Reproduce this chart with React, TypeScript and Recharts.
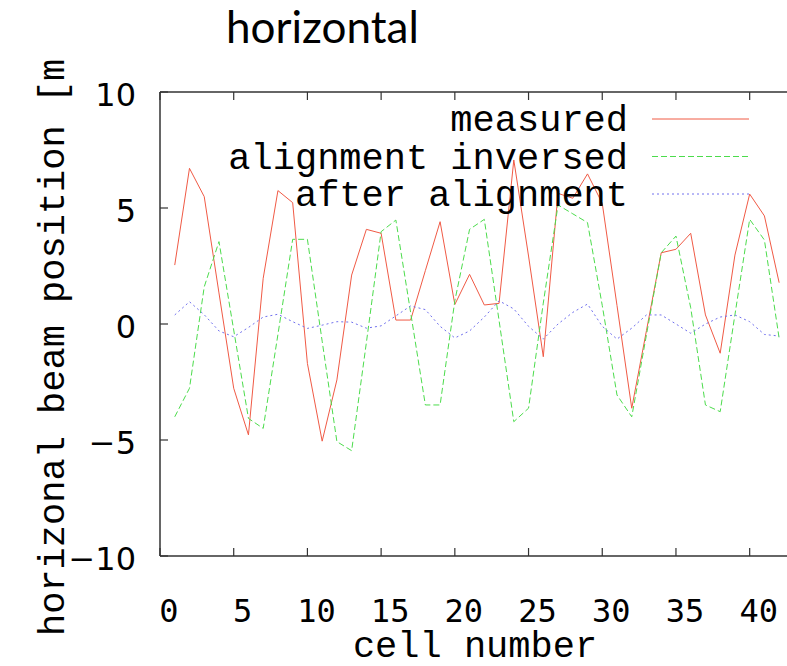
import { LineChart, Line, XAxis, YAxis } from 'recharts';

const cells = [
  1, 2, 3, 4, 5, 6, 7, 8, 9, 10, 11, 12, 13, 14, 15, 16, 17, 18, 19, 20, 21,
  22, 23, 24, 25, 26, 27, 28, 29, 30, 31, 32, 33, 34, 35, 36, 37, 38, 39, 40, 41, 42,
];

const measured = [
  2.54, 6.71, 5.49, 1.34, -2.77, -4.78, 1.97, 5.75, 5.23, -1.7, -5.05, -2.41, 2.11, 4.08,
  3.91, 0.17, 0.17, 2.3, 4.41, 0.84, 2.14, 0.82, 0.89, 7.07, 2.93, -1.41, 5.63, 5.42,
  6.47, 5.2, 0.8, -3.63, -0.28, 3.07, 3.22, 3.91, 0.39, -1.26, 2.97, 5.6, 4.66, 1.78,
];

const alignmentInversed = [
  -4.0, -2.77, 1.6, 3.55, -0.26, -4.07, -4.5, -0.45, 3.65, 3.65, -0.74, -5.07, -5.46, -0.8,
  3.98, 4.48, 0.5, -3.49, -3.49, 1.0, 4.08, 4.51, 0.15, -4.21, -3.63, 0.9, 5.13, 4.75,
  4.37, 0.8, -3.06, -4.0, -0.46, 3.07, 3.79, 0.7, -3.49, -3.78, 0.4, 4.51, 3.62, -0.62,
];

const afterAlignment = [
  0.39, 0.96, 0.4, -0.3, -0.55, -0.15, 0.3, 0.42, 0.1, -0.19, -0.05, 0.1, 0.08, -0.18,
  -0.08, 0.35, 0.78, 0.62, -0.1, -0.6, -0.3, 0.3, 1.0, 0.65, -0.1, -0.65, 0.0, 0.5,
  0.86, -0.1, -0.65, -0.18, 0.39, 0.39, 0.0, -0.4, 0.0, 0.3, 0.39, 0.1, -0.45, -0.52,
];

const xTicks = [0, 5, 10, 15, 20, 25, 30, 35, 40];
const yTicks = [-10, -5, 0, 5, 10];

const series = [
  { key: 'measured', name: 'measured', color: '#f05a45', dash: undefined },
  { key: 'inversed', name: 'alignment inversed', color: '#4cdc4c', dash: '6 3' },
  { key: 'after', name: 'after alignment', color: '#7070ee', dash: '2 3' },
];

const data = cells.map((c, i) => ({
  cell: c,
  measured: measured[i],
  inversed: alignmentInversed[i],
  after: afterAlignment[i],
}));

const AXIS = '#333';
const MONO = '"Liberation Mono", "DejaVu Sans Mono", monospace';

// gnuplot style: ticks point into the plot box
const BottomTick = ({ x, y, payload }: any) => (
  <g>
    <line x1={x} x2={x} y1={y} y2={y - 8} stroke={AXIS} strokeWidth={1.2} />
    <text x={x + 9} y={y + 66} textAnchor="middle" fontSize={32} fontFamily='"DejaVu Sans Mono", monospace' fill="#000">
      {payload.value}
    </text>
  </g>
);

const TopTick = ({ x, y }: any) => (
  <line x1={x} x2={x} y1={y} y2={y + 8} stroke={AXIS} strokeWidth={1.2} />
);

const LeftTick = ({ x, y, payload }: any) => (
  <g>
    <line x1={x} x2={x + 8} y1={y} y2={y} stroke={AXIS} strokeWidth={1.2} />
    <text x={x - 24} y={y + 14} textAnchor="end" fontSize={32} fontFamily='"DejaVu Sans", sans-serif' fill="#000">
      {payload.value >= 0 ? payload.value : '\u2212' + Math.abs(payload.value)}
    </text>
  </g>
);

const RightTick = ({ x, y }: any) => (
  <line x1={x} x2={x - 8} y1={y} y2={y} stroke={AXIS} strokeWidth={1.2} />
);

const YLabel = () => (
  <g>
    <defs>
      <clipPath id="ylabClip">
        <rect x={0} y={60} width={150} height={606} />
      </clipPath>
    </defs>
    <g clipPath="url(#ylabClip)">
      <text x={64} y={636} transform="rotate(-90 64 636)" fontSize={37} fontFamily={MONO} fill="#000">
        horizonal beam position [mm]
      </text>
    </g>
  </g>
);

export default function App() {
  return (
    <div style={{ position: 'relative', width: 787, height: 666, overflow: 'hidden', background: '#fff' }}>
      <style>{'body{margin:0}'}</style>
      <LineChart width={800} height={666} data={data} margin={{ top: 91, right: 11, bottom: 109, left: 159 }}>
        <XAxis
          dataKey="cell"
          type="number"
          domain={[0, 42.6]}
          ticks={xTicks}
          height={1}
          tickSize={0}
          tickMargin={0}
          tickLine={false}
          tick={<BottomTick />}
          axisLine={{ stroke: AXIS, strokeWidth: 1.5 }}
          allowDataOverflow
        />
        <XAxis
          xAxisId="top"
          orientation="top"
          dataKey="cell"
          type="number"
          domain={[0, 42.6]}
          ticks={xTicks}
          height={1}
          tickSize={0}
          tickMargin={0}
          tickLine={false}
          tick={<TopTick />}
          axisLine={{ stroke: AXIS, strokeWidth: 1.5 }}
          allowDataOverflow
        />
        <YAxis
          type="number"
          domain={[-10, 10]}
          ticks={yTicks}
          width={1}
          tickSize={0}
          tickMargin={0}
          tickLine={false}
          tick={<LeftTick />}
          axisLine={{ stroke: AXIS, strokeWidth: 1.5 }}
          label={{ content: <YLabel /> }}
        />
        <YAxis
          yAxisId="right"
          orientation="right"
          type="number"
          domain={[-10, 10]}
          ticks={yTicks}
          width={1}
          tickSize={0}
          tickMargin={0}
          tickLine={false}
          tick={<RightTick />}
          axisLine={{ stroke: AXIS, strokeWidth: 1.5 }}
        />
        {series.map((s) => (
          <Line
            key={s.key}
            dataKey={s.key}
            name={s.name}
            type="linear"
            stroke={s.color}
            strokeWidth={1}
            strokeDasharray={s.dash}
            dot={false}
            activeDot={false}
            isAnimationActive={false}
          />
        ))}
      </LineChart>

      {/* title, legend and x label overlay */}
      <svg width={787} height={666} style={{ position: 'absolute', left: 0, top: 0, pointerEvents: 'none' }}>
        <text x={226} y={43} fontSize={44} fontFamily='Lato, "Open Sans", sans-serif' fill="#000">
          horizontal
        </text>
        {series.map((s, i) => {
          const ly = 119 + i * 37.5;
          return (
            <g key={s.key}>
              <text x={628} y={ly + 12} textAnchor="end" fontSize={37} fontFamily={MONO} fill="#000">
                {s.name}
              </text>
              <line x1={652} x2={749} y1={ly} y2={ly} stroke={s.color} strokeWidth={1} strokeDasharray={s.dash} />
            </g>
          );
        })}
        <text x={475} y={657} textAnchor="middle" fontSize={37} fontFamily={MONO} fill="#000">
          cell number
        </text>
      </svg>
    </div>
  );
}
